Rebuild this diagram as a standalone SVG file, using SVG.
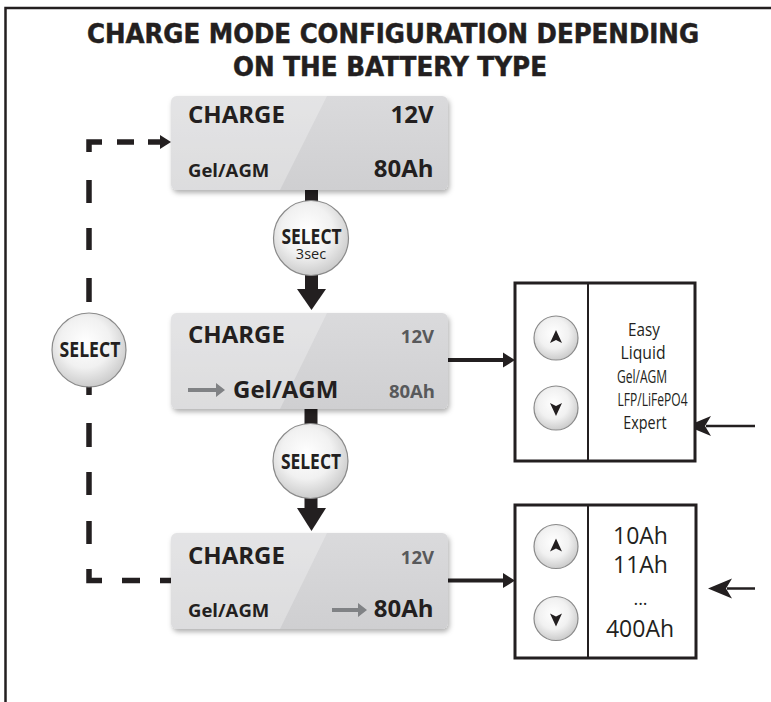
<svg xmlns="http://www.w3.org/2000/svg" width="771" height="702" viewBox="0 0 771 702">
<defs>
  <linearGradient id="lcd" x1="0" y1="0" x2="0" y2="1">
    <stop offset="0" stop-color="#dadadc"/>
    <stop offset="1" stop-color="#cfcfd1"/>
  </linearGradient>
  <radialGradient id="btn" cx="0.45" cy="0.4" r="0.62">
    <stop offset="0" stop-color="#ffffff"/>
    <stop offset="0.55" stop-color="#f1f1f1"/>
    <stop offset="1" stop-color="#c9c9c9"/>
  </radialGradient>
  <filter id="sh" x="-10%" y="-10%" width="125%" height="140%">
    <feDropShadow dx="1.5" dy="3" stdDeviation="2.5" flood-color="#000" flood-opacity="0.3"/>
  </filter>
</defs>
<style>
  .f{font-family:"Open Sans","Liberation Sans",sans-serif;fill:#231f20}
  .b{font-weight:700}
  .g{fill:#58595b}
  .ttl{font-family:"DejaVu Sans","Liberation Sans",sans-serif;font-weight:700;font-size:26px;fill:#231f20;stroke:#231f20;stroke-width:0.5}
  .lcd{fill:url(#lcd);filter:url(#sh)}
  .hl{fill:#ffffff;opacity:0.28}
  .btn{fill:url(#btn);stroke:#8a8a8a;stroke-width:1.2}
  .frame{fill:none;stroke:#231f20;stroke-width:2.5}
  .dash{fill:none;stroke:#231f20;stroke-width:5.5}
  .solid{fill:#231f20}
  .panel{fill:#ffffff;stroke:#231f20;stroke-width:3}
  .div{stroke:#231f20;stroke-width:2}
  .garrow{fill:#808285}
  .opt{font-size:17.5px;text-anchor:middle}
  .sel{font-size:21px;text-anchor:middle}
</style>

<!-- frame -->
<path class="frame" d="M5.5,702 V8 H771"/>

<g id="title">
  <text class="ttl" x="393" y="43" text-anchor="middle" textLength="612" lengthAdjust="spacingAndGlyphs">CHARGE MODE CONFIGURATION DEPENDING</text>
  <text class="ttl" x="390" y="76" text-anchor="middle" textLength="314" lengthAdjust="spacingAndGlyphs">ON THE BATTERY TYPE</text>
</g>

<g id="connectors">
  <!-- dashed return loop -->
  <path class="dash" d="M89,152 V142 H102"/>
  <path class="dash" d="M117,142 H134"/>
  <path class="dash" d="M148,142 H161"/>
  <path class="solid" d="M160,135 L171,142 L160,149 Z"/>
  <path class="dash" d="M89,180 V203 M89,228 V250 M89,278 V302"/>
  <path class="dash" d="M89,386 V395 M89,423 V447 M89,472 V495 M89,521 V544"/>
  <path class="dash" d="M89,569 V580.5 H102"/>
  <path class="dash" d="M122,580.5 H140 M160,580.5 H171"/>
  <!-- main downward arrows -->
  <rect class="solid" x="305" y="189" width="13" height="14"/>
  <rect class="solid" x="305" y="273" width="13" height="18"/>
  <path class="solid" d="M297,289 H326 L311.5,310 Z"/>
  <rect class="solid" x="304.5" y="408" width="13" height="18"/>
  <rect class="solid" x="304.5" y="496" width="13" height="14"/>
  <path class="solid" d="M297,508 H326 L311.5,531 Z"/>
  <!-- right arrows to panels -->
  <path d="M448,360 H505" stroke="#231f20" stroke-width="4"/>
  <path class="solid" d="M503,352.5 L515,360 L503,367.5 Z"/>
  <path d="M448,580.5 H505" stroke="#231f20" stroke-width="4"/>
  <path class="solid" d="M503,573 L515,580.5 L503,588 Z"/>
  <!-- incoming arrows -->
  <path d="M755,426 H706" stroke="#231f20" stroke-width="2.5"/>
  <path class="solid" d="M687,426 L711,416 L705,426 L711,436 Z"/>
  <path d="M755,588.5 H727" stroke="#231f20" stroke-width="2.5"/>
  <path class="solid" d="M708,588.5 L732,578.5 L726,588.5 L732,598.5 Z"/>
</g>

<g id="lcd-1">
  <rect class="lcd" x="171" y="96" width="277" height="94" rx="6"/>
  <path class="hl" d="M177,96 H327 L280,190 H177 A6,6 0 0 1 171,184 V102 A6,6 0 0 1 177,96 Z"/>
  <text class="f b" x="188" y="122.5" font-size="24">CHARGE</text>
  <text class="f b" x="433.5" y="122.5" font-size="24" text-anchor="end">12V</text>
  <text class="f b" x="188" y="177" font-size="18.5">Gel/AGM</text>
  <text class="f b" x="433.5" y="177.3" font-size="24" text-anchor="end">80Ah</text>
</g>

<g id="select-3sec">
  <circle class="btn" cx="311" cy="238" r="37.5"/>
  <text class="f b sel" transform="translate(311.5,244) scale(0.83,1)">SELECT</text>
  <text class="f" x="311" y="259" font-size="14.5" text-anchor="middle">3sec</text>
</g>

<g id="lcd-2">
  <rect class="lcd" x="171" y="313" width="277" height="96" rx="6"/>
  <path class="hl" d="M177,313 H327 L280,409 H177 A6,6 0 0 1 171,403 V319 A6,6 0 0 1 177,313 Z"/>
  <text class="f b" x="188" y="343" font-size="24">CHARGE</text>
  <text class="f b g" x="434" y="343" font-size="18.5" text-anchor="end">12V</text>
  <path class="garrow" d="M188,388 H216 V383 L225,390 L216,397 V392 H188 Z"/>
  <text class="f b" x="233" y="398" font-size="24">Gel/AGM</text>
  <text class="f b g" x="435" y="398" font-size="18.5" text-anchor="end">80Ah</text>
</g>

<g id="select-2">
  <circle class="btn" cx="310.5" cy="461" r="37.5"/>
  <text class="f b sel" transform="translate(311,468.5) scale(0.83,1)">SELECT</text>
</g>

<g id="select-loop">
  <circle class="btn" cx="89" cy="350" r="37"/>
  <text class="f b sel" transform="translate(90,357) scale(0.84,1)">SELECT</text>
</g>

<g id="lcd-3">
  <rect class="lcd" x="171" y="533" width="277" height="96" rx="6"/>
  <path class="hl" d="M177,533 H327 L280,629 H177 A6,6 0 0 1 171,623 V539 A6,6 0 0 1 177,533 Z"/>
  <text class="f b" x="188" y="564" font-size="24">CHARGE</text>
  <text class="f b g" x="434" y="564" font-size="18.5" text-anchor="end">12V</text>
  <text class="f b" x="188" y="617.3" font-size="18.5">Gel/AGM</text>
  <path class="garrow" d="M332,608 H358 V603 L367,610 L358,617 V612 H332 Z"/>
  <text class="f b" x="433.5" y="617.3" font-size="24" text-anchor="end">80Ah</text>
</g>

<g id="panel-type">
  <rect class="panel" x="515" y="283" width="180" height="178"/>
  <line class="div" x1="588" y1="283" x2="588" y2="461"/>
  <circle class="btn" cx="556" cy="338" r="22"/>
  <path class="solid" d="M556,330 L562,343 L556,340 L550,343 Z"/>
  <circle class="btn" cx="556" cy="408" r="22"/>
  <path class="solid" d="M556,416 L562,403 L556,406 L550,403 Z"/>
  <text class="f opt" transform="translate(644,336) scale(0.87,1)">Easy</text>
  <text class="f opt" transform="translate(643,359.3) scale(0.9,1)">Liquid</text>
  <text class="f opt" transform="translate(642,382.7) scale(0.69,1)">Gel/AGM</text>
  <text class="f opt" transform="translate(652.5,406) scale(0.69,1)">LFP/LiFePO4</text>
  <text class="f opt" transform="translate(645,429.3) scale(0.82,1)">Expert</text>
</g>

<g id="panel-capacity">
  <rect class="panel" x="515" y="505" width="181" height="153"/>
  <line class="div" x1="588" y1="505" x2="588" y2="658"/>
  <circle class="btn" cx="556" cy="546.5" r="22"/>
  <path class="solid" d="M556,538.5 L562,551.5 L556,548.5 L550,551.5 Z"/>
  <circle class="btn" cx="556" cy="618.5" r="22"/>
  <path class="solid" d="M556,626.5 L562,613.5 L556,616.5 L550,613.5 Z"/>
  <text class="f" x="640.5" y="543.5" font-size="23" text-anchor="middle">10Ah</text>
  <text class="f" x="640.5" y="573.3" font-size="23" text-anchor="middle">11Ah</text>
  <text class="f" x="640.5" y="605" font-size="18" text-anchor="middle">...</text>
  <text class="f" x="640" y="636.7" font-size="23" text-anchor="middle">400Ah</text>
</g>
</svg>
